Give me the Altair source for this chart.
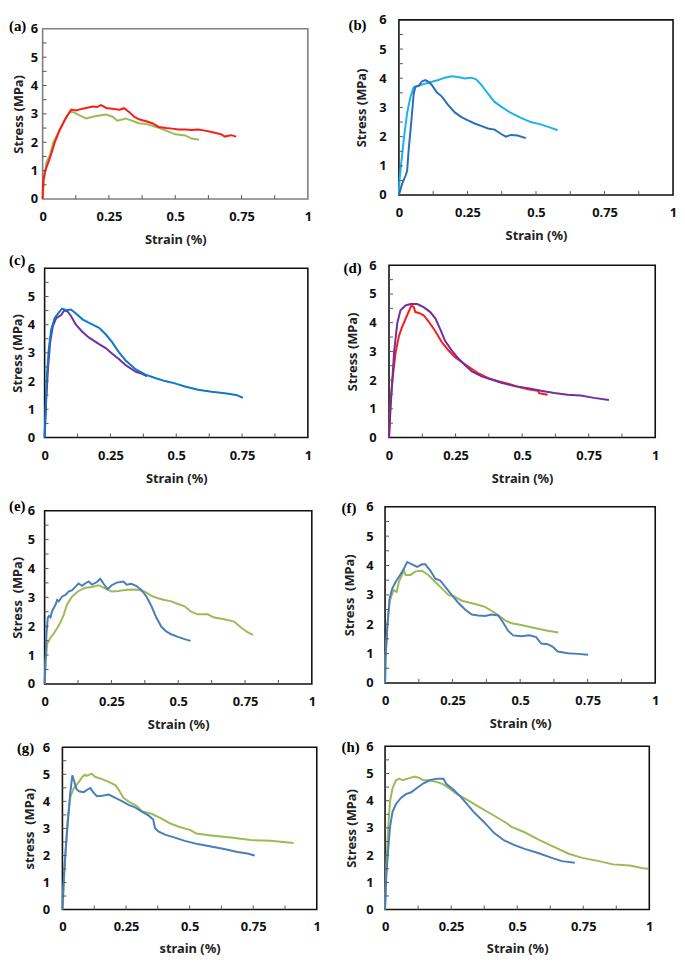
import altair as alt
import pandas as pd

# ---------------- data ----------------
# (a)
a_red_x = [0, 0.002, 0.009, 0.027, 0.046, 0.065, 0.09, 0.108, 0.125, 0.14, 0.164, 0.189, 0.205, 0.22, 0.24, 0.27, 0.29, 0.307, 0.326, 0.345, 0.363, 0.39, 0.413, 0.438, 0.465, 0.488, 0.512, 0.537, 0.562, 0.587, 0.612, 0.637, 0.674, 0.687, 0.7, 0.711, 0.73]
a_red_y = [0, 0.64, 0.98, 1.43, 2.0, 2.45, 2.9, 3.15, 3.12, 3.16, 3.21, 3.26, 3.24, 3.31, 3.21, 3.17, 3.15, 3.2, 3.07, 2.9, 2.81, 2.74, 2.67, 2.54, 2.5, 2.48, 2.45, 2.45, 2.43, 2.45, 2.41, 2.36, 2.28, 2.2, 2.23, 2.25, 2.2]
a_grn_x = [0, 0.005, 0.015, 0.027, 0.04, 0.065, 0.083, 0.102, 0.114, 0.139, 0.164, 0.189, 0.214, 0.239, 0.264, 0.282, 0.313, 0.34, 0.363, 0.39, 0.413, 0.44, 0.463, 0.5, 0.537, 0.562, 0.59]
a_grn_y = [0, 0.64, 1.32, 1.54, 2.0, 2.45, 2.78, 3.07, 3.07, 2.95, 2.84, 2.9, 2.94, 2.98, 2.9, 2.76, 2.84, 2.75, 2.67, 2.64, 2.58, 2.5, 2.42, 2.28, 2.24, 2.13, 2.09]
# (b)
b_dark_x = [0, 0.012, 0.024, 0.03, 0.036, 0.046, 0.054, 0.06, 0.072, 0.084, 0.096, 0.108, 0.12, 0.138, 0.156, 0.18, 0.204, 0.228, 0.252, 0.276, 0.3, 0.325, 0.349, 0.373, 0.39, 0.409, 0.433, 0.463]
b_dark_y = [0, 0.39, 0.66, 0.83, 1.6, 2.59, 3.47, 3.71, 3.74, 3.89, 3.94, 3.88, 3.77, 3.52, 3.38, 3.08, 2.83, 2.67, 2.56, 2.45, 2.37, 2.28, 2.24, 2.09, 2.0, 2.06, 2.04, 1.95]
b_light_x = [0, 0.002, 0.008, 0.018, 0.03, 0.042, 0.054, 0.084, 0.12, 0.144, 0.168, 0.192, 0.216, 0.24, 0.264, 0.282, 0.3, 0.325, 0.349, 0.373, 0.409, 0.445, 0.481, 0.517, 0.553, 0.579]
b_light_y = [0, 0.5, 1.05, 1.93, 2.81, 3.36, 3.69, 3.78, 3.88, 3.94, 4.02, 4.07, 4.04, 3.99, 4.02, 3.96, 3.78, 3.47, 3.19, 3.03, 2.81, 2.64, 2.5, 2.42, 2.31, 2.22]
# (c)
c_blue_x = [0, 0.004, 0.009, 0.016, 0.025, 0.038, 0.05, 0.066, 0.082, 0.1, 0.119, 0.144, 0.169, 0.207, 0.232, 0.257, 0.282, 0.307, 0.345, 0.383, 0.42, 0.458, 0.495, 0.533, 0.583, 0.634, 0.684, 0.728, 0.753]
c_blue_y = [0, 1.09, 2.23, 3.14, 3.83, 4.23, 4.38, 4.57, 4.51, 4.54, 4.4, 4.19, 4.06, 3.89, 3.66, 3.37, 3.03, 2.74, 2.42, 2.23, 2.11, 2.0, 1.92, 1.81, 1.69, 1.62, 1.57, 1.51, 1.41]
c_purp_x = [0, 0.006, 0.013, 0.021, 0.031, 0.044, 0.063, 0.075, 0.088, 0.1, 0.119, 0.144, 0.169, 0.207, 0.232, 0.257, 0.282, 0.307, 0.345, 0.37, 0.389]
c_purp_y = [0, 1.31, 2.46, 3.37, 3.94, 4.23, 4.34, 4.51, 4.46, 4.31, 4.0, 3.74, 3.54, 3.31, 3.17, 2.97, 2.78, 2.57, 2.34, 2.26, 2.17]
# (d)
d_red_x = [0, 0.006, 0.015, 0.025, 0.037, 0.05, 0.068, 0.084, 0.093, 0.099, 0.112, 0.13, 0.149, 0.174, 0.199, 0.224, 0.248, 0.273, 0.298, 0.335, 0.373, 0.41, 0.447, 0.484, 0.522, 0.559, 0.565, 0.596]
d_red_y = [0, 1.29, 2.19, 2.97, 3.53, 3.87, 4.26, 4.6, 4.54, 4.37, 4.34, 4.26, 4.04, 3.7, 3.31, 3.03, 2.8, 2.63, 2.47, 2.24, 2.07, 1.96, 1.87, 1.77, 1.68, 1.63, 1.54, 1.49]
d_purp_x = [0, 0.006, 0.019, 0.031, 0.043, 0.062, 0.081, 0.106, 0.13, 0.155, 0.174, 0.193, 0.211, 0.236, 0.261, 0.286, 0.311, 0.348, 0.385, 0.422, 0.472, 0.522, 0.571, 0.621, 0.671, 0.72, 0.77, 0.826]
d_purp_y = [0, 1.07, 2.97, 3.98, 4.43, 4.6, 4.65, 4.65, 4.54, 4.37, 4.15, 3.76, 3.36, 3.03, 2.75, 2.52, 2.3, 2.13, 2.02, 1.91, 1.79, 1.72, 1.63, 1.55, 1.49, 1.46, 1.38, 1.31]
# (e)
e_blue_x = [0, 0.004, 0.007, 0.012, 0.016, 0.022, 0.028, 0.041, 0.047, 0.053, 0.066, 0.078, 0.09, 0.103, 0.115, 0.127, 0.14, 0.152, 0.165, 0.177, 0.196, 0.208, 0.22, 0.236, 0.251, 0.27, 0.295, 0.307, 0.325, 0.344, 0.363, 0.381, 0.4, 0.418, 0.437, 0.455, 0.474, 0.499, 0.524, 0.546]
e_blue_y = [0, 0.95, 1.74, 2.3, 2.35, 2.3, 2.52, 2.75, 2.91, 2.86, 3.03, 3.08, 3.2, 3.25, 3.36, 3.48, 3.4, 3.48, 3.55, 3.44, 3.53, 3.64, 3.48, 3.28, 3.42, 3.51, 3.55, 3.44, 3.47, 3.39, 3.25, 3.03, 2.69, 2.3, 1.98, 1.82, 1.72, 1.63, 1.55, 1.49]
e_grn_x = [0, 0.004, 0.01, 0.022, 0.035, 0.047, 0.059, 0.072, 0.084, 0.103, 0.127, 0.152, 0.177, 0.202, 0.226, 0.251, 0.276, 0.301, 0.326, 0.35, 0.375, 0.4, 0.424, 0.449, 0.474, 0.499, 0.524, 0.548, 0.573, 0.61, 0.635, 0.672, 0.709, 0.734, 0.759, 0.78]
e_grn_y = [0, 0.84, 1.4, 1.6, 1.76, 1.94, 2.13, 2.41, 2.75, 3.03, 3.22, 3.33, 3.36, 3.42, 3.31, 3.2, 3.22, 3.25, 3.27, 3.26, 3.2, 3.05, 2.97, 2.91, 2.86, 2.77, 2.69, 2.5, 2.41, 2.41, 2.3, 2.24, 2.16, 1.96, 1.79, 1.7]
# (f)
f_blue_x = [0, 0.002, 0.009, 0.017, 0.027, 0.039, 0.058, 0.07, 0.082, 0.1, 0.119, 0.137, 0.149, 0.168, 0.186, 0.204, 0.223, 0.247, 0.272, 0.296, 0.321, 0.345, 0.37, 0.394, 0.419, 0.437, 0.455, 0.474, 0.504, 0.535, 0.559, 0.578, 0.602, 0.621, 0.639, 0.676, 0.712, 0.752]
f_blue_y = [0, 0.9, 2.0, 2.89, 3.22, 3.44, 3.71, 3.9, 4.12, 4.04, 3.95, 4.04, 4.04, 3.82, 3.55, 3.49, 3.27, 2.99, 2.72, 2.5, 2.33, 2.3, 2.28, 2.33, 2.3, 2.06, 1.78, 1.62, 1.59, 1.62, 1.56, 1.34, 1.32, 1.23, 1.07, 1.01, 0.99, 0.96]
f_grn_x = [0, 0.002, 0.009, 0.017, 0.027, 0.033, 0.043, 0.051, 0.064, 0.07, 0.076, 0.094, 0.113, 0.137, 0.162, 0.186, 0.21, 0.235, 0.253, 0.284, 0.333, 0.37, 0.406, 0.443, 0.468, 0.504, 0.553, 0.602, 0.641]
f_grn_y = [0, 0.9, 2.0, 2.78, 3.05, 3.16, 3.1, 3.44, 3.71, 3.82, 3.68, 3.68, 3.8, 3.82, 3.66, 3.44, 3.22, 2.99, 2.96, 2.8, 2.69, 2.59, 2.39, 2.14, 2.03, 1.97, 1.87, 1.78, 1.72]
# (g)
g_blue_x = [0, 0.006, 0.013, 0.023, 0.03, 0.039, 0.045, 0.055, 0.065, 0.084, 0.097, 0.11, 0.123, 0.136, 0.156, 0.182, 0.208, 0.234, 0.26, 0.286, 0.312, 0.338, 0.357, 0.364, 0.377, 0.403, 0.442, 0.481, 0.532, 0.584, 0.636, 0.688, 0.727, 0.756]
g_blue_y = [0, 1.3, 2.24, 3.42, 4.25, 4.96, 4.78, 4.46, 4.37, 4.34, 4.43, 4.49, 4.31, 4.19, 4.21, 4.25, 4.13, 4.01, 3.87, 3.78, 3.62, 3.48, 3.33, 3.01, 2.89, 2.77, 2.66, 2.54, 2.42, 2.33, 2.24, 2.13, 2.07, 2.0]
g_grn_x = [0, 0.006, 0.013, 0.019, 0.026, 0.032, 0.045, 0.065, 0.078, 0.088, 0.094, 0.104, 0.114, 0.13, 0.156, 0.182, 0.208, 0.221, 0.24, 0.266, 0.292, 0.312, 0.351, 0.39, 0.422, 0.455, 0.506, 0.526, 0.584, 0.662, 0.74, 0.818, 0.909]
g_grn_y = [0, 1.06, 2.24, 3.19, 3.78, 4.19, 4.49, 4.72, 4.9, 4.98, 4.94, 4.98, 5.02, 4.9, 4.82, 4.72, 4.6, 4.43, 4.13, 3.96, 3.84, 3.64, 3.54, 3.36, 3.19, 3.07, 2.93, 2.81, 2.74, 2.66, 2.57, 2.54, 2.46]
# (h)
h_blue_x = [0, 0.005, 0.012, 0.019, 0.028, 0.041, 0.06, 0.079, 0.099, 0.118, 0.144, 0.169, 0.195, 0.221, 0.233, 0.259, 0.285, 0.31, 0.336, 0.374, 0.413, 0.451, 0.49, 0.528, 0.579, 0.631, 0.669, 0.718]
h_blue_y = [0, 1.29, 2.23, 3.05, 3.58, 3.87, 4.1, 4.24, 4.31, 4.45, 4.63, 4.75, 4.81, 4.81, 4.6, 4.4, 4.16, 3.87, 3.58, 3.22, 2.81, 2.54, 2.37, 2.23, 2.08, 1.9, 1.78, 1.72]
h_grn_x = [0, 0.005, 0.012, 0.019, 0.028, 0.041, 0.054, 0.067, 0.086, 0.112, 0.131, 0.144, 0.169, 0.195, 0.221, 0.246, 0.272, 0.31, 0.349, 0.4, 0.458, 0.477, 0.528, 0.579, 0.631, 0.695, 0.746, 0.81, 0.862, 0.926, 0.977, 0.996]
h_grn_y = [0, 1.64, 3.05, 3.99, 4.45, 4.75, 4.81, 4.75, 4.81, 4.89, 4.83, 4.75, 4.75, 4.69, 4.6, 4.43, 4.24, 4.04, 3.81, 3.52, 3.19, 3.05, 2.84, 2.58, 2.34, 2.05, 1.9, 1.78, 1.66, 1.62, 1.52, 1.5]

x_labels = [0, 0.25, 0.5, 0.75, 1]
y_labels = [0, 1, 2, 3, 4, 5, 6]
minor_x = [0.125, 0.25, 0.375, 0.5, 0.625, 0.75, 0.875]
minor_y = [0.5, 1, 1.5, 2, 2.5, 3, 3.5, 4, 4.5, 5, 5.5]

RED, GREEN, PURPLE, BLUE = "#ff1a1a", "#9bbb59", "#7030a0", "#4a7ebb"

panels = [
    dict(label="(a)", series=[(a_grn_x, a_grn_y, GREEN), (a_red_x, a_red_y, RED)],
         xt="Strain (%)", yt="Stress (MPa)", frame="#7f7f7f"),
    dict(label="(b)", series=[(b_light_x, b_light_y, "#1cb1ec"), (b_dark_x, b_dark_y, "#2a6ebb")],
         xt="Strain (%)", yt="Stress (MPa)", frame="#111111"),
    dict(label="(c)", series=[(c_purp_x, c_purp_y, PURPLE), (c_blue_x, c_blue_y, "#1078c8")],
         xt="Strain (%)", yt="Stress (MPa)", frame="#111111"),
    dict(label="(d)", series=[(d_red_x, d_red_y, RED), (d_purp_x, d_purp_y, PURPLE)],
         xt="Strain (%)", yt="Stress (MPa)", frame="#111111"),
    dict(label="(e)", series=[(e_grn_x, e_grn_y, GREEN), (e_blue_x, e_blue_y, BLUE)],
         xt="Strain (%)", yt="Stress\u00a0\u00a0(MPa)", frame="#111111"),
    dict(label="(f)", series=[(f_grn_x, f_grn_y, GREEN), (f_blue_x, f_blue_y, BLUE)],
         xt="Strain (%)", yt="Stress\u00a0\u00a0(MPa)", frame="#111111"),
    dict(label="(g)", series=[(g_grn_x, g_grn_y, GREEN), (g_blue_x, g_blue_y, BLUE)],
         xt="strain (%)", yt="stress\u00a0\u00a0(MPa)", frame="#111111"),
    dict(label="(h)", series=[(h_grn_x, h_grn_y, GREEN), (h_blue_x, h_blue_y, BLUE)],
         xt="Strain (%)", yt="Stress (MPa)", frame="#111111"),
]

# ---------------- layout (page pixel positions) ----------------
COLS = [(8, 340), (340, 684)]
ROWS = [(8, 249), (249, 493), (493, 737), (737, 962)]
GEOM = [
    dict(L=43, T=24, R=311, B=196, ylp=5, ytp=5, xlp=12, xtp=10, lab=(9, 21)),
    dict(L=403, T=15, R=680, B=192, ylp=13, ytp=10, xlp=12, xtp=10, lab=(352, 20)),
    dict(L=45, T=266, R=311, B=437, ylp=10, ytp=3, xlp=12, xtp=10, lab=(9, 258)),
    dict(L=393, T=263, R=662, B=437, ylp=13, ytp=9, xlp=12, xtp=10, lab=(347, 266)),
    dict(L=45, T=511, R=315, B=686, ylp=10, ytp=3, xlp=12, xtp=10, lab=(9, 506)),
    dict(L=389, T=507, R=662, B=685, ylp=12, ytp=9, xlp=12, xtp=10, lab=(345, 508)),
    dict(L=63, T=750, R=320, B=914, ylp=13, ytp=6, xlp=11, xtp=9, lab=(17, 751)),
    dict(L=389, T=749, R=656, B=914, ylp=12, ytp=7, xlp=11, xtp=9, lab=(345, 750)),
]
COL_X0 = [min(GEOM[i]["L"] for i in (0, 2, 4, 6)), min(GEOM[i]["L"] for i in (1, 3, 5, 7))]
ROW_Y0 = [min(GEOM[2 * r]["T"], GEOM[2 * r + 1]["T"]) for r in range(4)]
ROW_Y1 = [max(GEOM[2 * r]["B"], GEOM[2 * r + 1]["B"]) for r in range(4)]

FONT = "Noto Sans"
one = pd.DataFrame({"k": [0]})


def make_panel(idx):
    p = panels[idx]
    g = GEOM[idx]
    col, row = idx % 2, idx // 2
    L, T, R, B = g["L"], g["T"], g["R"], g["B"]
    gx0, gy0, gy1 = COL_X0[col], ROW_Y0[row], ROW_Y1[row]
    gw, gh = R - gx0, gy1 - gy0
    xl, xr = L - gx0, R - gx0
    yt, yb = T - gy0, B - gy0
    xscale = alt.Scale(domain=[0, 1], nice=False, zero=False, range=[xl, xr])
    yscale = alt.Scale(domain=[0, 6], nice=False, range=[yb, yt])
    xaxis = alt.Axis(values=x_labels, labelExpr="'' + datum.value", title=p["xt"], ticks=False,
                     domain=False, grid=False, offset=-(gh - yb), labelFont=FONT,
                     labelFontWeight="bold", labelFontSize=13, labelColor="#111111",
                     labelPadding=g["xlp"], labelFlush=False, labelOverlap=False,
                     titleFont=FONT, titleFontWeight="bold", titleFontSize=13,
                     titleColor="#222222", titlePadding=g["xtp"])
    yaxis = alt.Axis(values=y_labels, format="d", title=p["yt"], ticks=False, domain=False,
                     grid=False, offset=-xl, labelFont=FONT, labelFontWeight="bold",
                     labelFontSize=13, labelColor="#111111", labelPadding=g["ylp"],
                     labelOverlap=False, titleFont=FONT, titleFontWeight="bold",
                     titleFontSize=13, titleColor="#222222", titlePadding=g["ytp"])
    xenc = alt.X("x:Q", scale=xscale, axis=xaxis)
    yenc = alt.Y("y:Q", scale=yscale, axis=yaxis)
    layers = []
    cl, cr = COLS[col]
    ct, cb = ROWS[row]
    # invisible cell box: fixes each panel's extent in the grid
    layers.append(alt.Chart(one).mark_rect(opacity=0).encode(
        x=alt.value(cl - gx0), x2=alt.value(cr - gx0), y=alt.value(ct - gy0), y2=alt.value(cb - gy0)))
    # plot frame, through the scales
    layers.append(alt.Chart(one).mark_rect(filled=False, stroke=p["frame"], strokeWidth=1.6).encode(
        x=alt.X(datum=0, scale=xscale, axis=xaxis), x2=alt.datum(1),
        y=alt.Y(datum=0, scale=yscale, axis=yaxis), y2=alt.datum(6)))
    for xs, ys, color in p["series"]:
        df = pd.DataFrame({"x": xs, "y": ys, "i": list(range(len(xs)))})
        layers.append(alt.Chart(df).mark_line(color=color, strokeWidth=2).encode(
            x=xenc, y=yenc, order="i:Q"))
    # inward minor ticks
    layers.append(alt.Chart(pd.DataFrame({"x": minor_x})).mark_rule(color="#555555", strokeWidth=1).encode(
        x=xenc, y=alt.value(yb), y2=alt.value(yb - 4)))
    layers.append(alt.Chart(pd.DataFrame({"y": minor_y})).mark_rule(color="#555555", strokeWidth=1).encode(
        y=yenc, x=alt.value(xl), x2=alt.value(xl + 4)))
    lx, ly = g["lab"]
    layers.append(alt.Chart(one).mark_text(font="Liberation Serif", fontWeight="bold", fontSize=15,
                                           align="left", baseline="middle", color="#000000").encode(
        x=alt.value(lx - gx0), y=alt.value(ly - gy0), text=alt.value(p["label"])))
    return alt.layer(*layers).properties(
        width=gw, height=gh, view=alt.ViewBackground(strokeWidth=0))


rows = []
for r in range(4):
    rows.append(alt.hconcat(make_panel(2 * r), make_panel(2 * r + 1), spacing=0))

chart = alt.vconcat(*rows, spacing=0).properties(padding=0).configure(background="white")

chart.save("out.html", embed_options={"renderer": "svg", "actions": False})
